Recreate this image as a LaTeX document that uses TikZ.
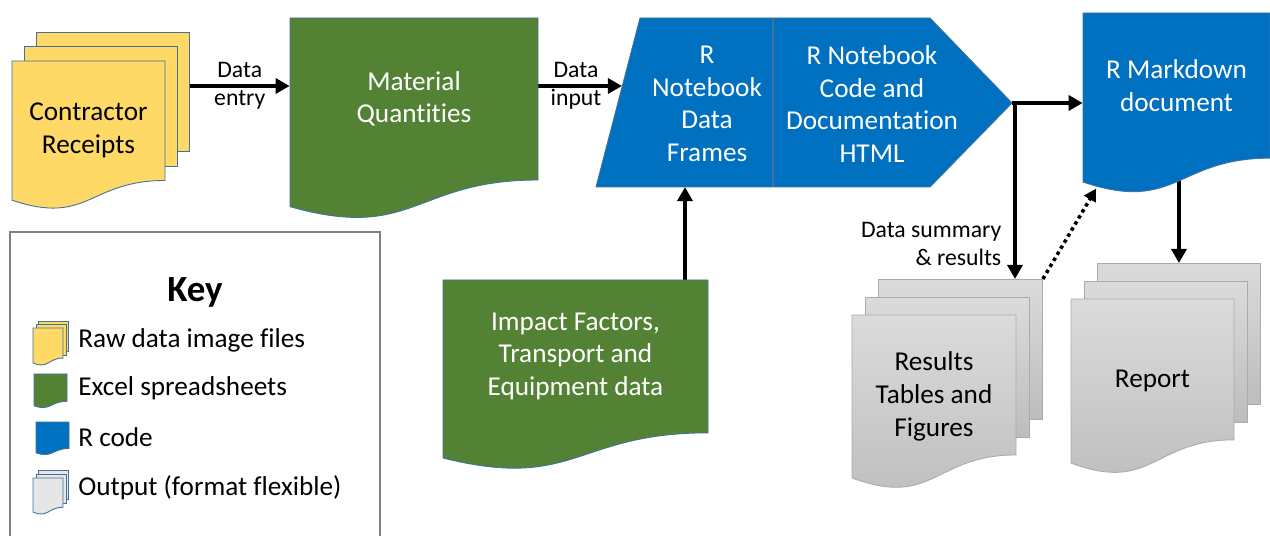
\documentclass[tikz,border=0pt]{standalone}
\usepackage{fontspec}
\setmainfont{Carlito}[Ligatures=NoCommon]
\usetikzlibrary{arrows.meta,backgrounds}

\definecolor{docyellow}{HTML}{FFD966}
\definecolor{docgreen}{HTML}{548235}
\definecolor{docblue}{HTML}{0070C0}
\definecolor{docedge}{HTML}{41719C}
\definecolor{outtop}{HTML}{DBDBDB}
\definecolor{outbot}{HTML}{BDBDBD}
\definecolor{outedge}{HTML}{ABABAB}
\definecolor{keygray}{HTML}{E7E6E6}
\definecolor{keyframe}{HTML}{808080}

\newcommand{\docpage}[5]{%
  \draw[#1] (#2,#3) -- ({#2+#4},#3) -- ({#2+#4},{#3+0.802*#5})
    .. controls ({#2+0.5*#4},{#3+0.802*#5}) and ({#2+0.5*#4},{#3+1.1075*#5}) .. (#2,{#3+0.934*#5}) -- cycle;}

\newcommand{\docnode}[8]{%
  \docpage{#2}{#3}{#4}{#5}{#6}
  \node[box, text=#8, minimum width=#5*0.02cm, minimum height=#6*0.01604cm] (#1) at ({#3+0.5*#5},{#4+0.401*#6}) {#7};
  \coordinate (#1-heel) at ({#3+0.07*#5},{#4+0.97*#6});}

\newcommand{\docstack}[9]{%
  \node[#2, anchor=north west, inner sep=0pt, minimum width=#5*0.02cm, minimum height=#6*0.01604cm] (#1-b) at ({#3+2*#7},{#4-2*#8}) {};
  \node[#2, anchor=north west, inner sep=0pt, minimum width=#5*0.02cm, minimum height=#6*0.01604cm] (#1-m) at ({#3+#7},{#4-#8}) {};
  \docpage{#2}{#3}{#4}{#5}{#6}
  \node[box, minimum width=#5*0.02cm, minimum height=#6*0.01868cm] (#1) at ({#3+0.5*#5},{#4+0.467*#6}) {#9};}

\begin{document}
\begin{tikzpicture}[x=0.02cm, y=-0.02cm,
  box/.style={inner sep=0pt, align=center, font=\fontsize{15.5}{18.6}\selectfont},
  flowlbl/.style={inner sep=0pt, align=center, font=\fontsize{13.5}{16}\selectfont},
  keytxt/.style={inner sep=0pt, anchor=west, font=\fontsize{15.5}{18.6}\selectfont},
  yel/.style={fill=docyellow, draw=docedge, line width=0.5pt},
  grn/.style={fill=docgreen, draw=docedge, line width=0.5pt},
  blu/.style={fill=docblue, draw=docedge, line width=0.5pt},
  gry/.style={top color=outtop, bottom color=outbot, draw=outedge, line width=0.5pt},
  keygry/.style={fill=keygray, draw=docedge, line width=0.5pt},
  arr/.style={line width=2pt, -{Triangle[length=8pt,width=8.5pt]}},
  dotarr/.style={line width=2pt, dash pattern=on 2pt off 2pt, -{Triangle[length=7pt,width=7.5pt]}}]

\useasboundingbox (0,0) rectangle (1270,536);

\docstack{cr}{yel}{12}{61}{153}{149}{12}{14.5}{Contractor\\Receipts}
\docnode{mq}{grn}{290}{18}{248}{202}{Material\\Quantities}{white}
\docnode{if}{grn}{443}{280}{265}{190.6}{Impact Factors,\\Transport and\\Equipment data}{white}
\docnode{rmd}{blu}{1083}{13}{187}{181}{R Markdown\\document}{white}
\docstack{rs}{gry}{852}{315}{164}{174.5}{13}{18}{Results\\Tables and\\Figures}
\docstack{rp}{gry}{1071}{299}{163}{175.6}{13}{18}{Report}

\coordinate (tip) at (1012,103);
\coordinate (split) at (1015,103);
\coordinate (dfin) at (622,86);
\coordinate (dfbot) at (685,187);
\draw[blu] (596,187) -- (640,18) -- (930,18) -- (tip) -- (930,187) -- cycle;
\draw[docedge, line width=0.6pt] (773,18) -- (773,187);
\node[box, text=white] (frames) at (707,104) {R\\Notebook\\Data\\Frames};
\node[box, text=white] (notebook) at (872,104) {R Notebook\\Code and\\Documentation\\HTML};

\begin{scope}[on background layer]
\draw[arr] (cr-b.east |- dfin) -- node[flowlbl] (lentry) {Data\\entry} (mq.west |- dfin);
\draw[arr] (mq.east |- dfin) -- node[flowlbl, pos=0.45] (linput) {Data\\input} (dfin);
\draw[arr] (if.north -| dfbot) -- (dfbot);
\draw[arr] (tip) -- (tip -| rmd.west);
\draw[arr] (split) -- node[flowlbl, align=right, anchor=east, pos=0.8, xshift=-0.24cm] (lsum) {Data summary\\\& results} (split |- rs-b.north);
\draw[arr] (rmd.center -| rp-b.north) -- (rp-b.north);
\draw[dotarr] (rs-b.north east) -- (rmd-heel);
\end{scope}

\draw[keyframe, line width=0.6pt] (10,540) -- (10,232) -- (380,232) -- (380,540);
\node[font=\bfseries\fontsize{21}{25}\selectfont] (keytitle) at (195,292) {Key};
\docstack{kraw}{yel}{33}{328}{30}{37.5}{2.5}{3.5}{}
\docnode{kxls}{grn}{34}{374}{33}{34}{}{white}
\docnode{kr}{blu}{36}{422}{33}{33}{}{white}
\docstack{kout}{keygry}{33}{478}{30}{36.5}{2.5}{4}{}
\node[keytxt] (lraw) at (78,340) {Raw data image files};
\node[keytxt] (lxls) at (78,388) {Excel spreadsheets};
\node[keytxt] (lr) at (78,437) {R code};
\node[keytxt] (lout) at (78,488) {Output (format flexible)};
\end{tikzpicture}
\end{document}
